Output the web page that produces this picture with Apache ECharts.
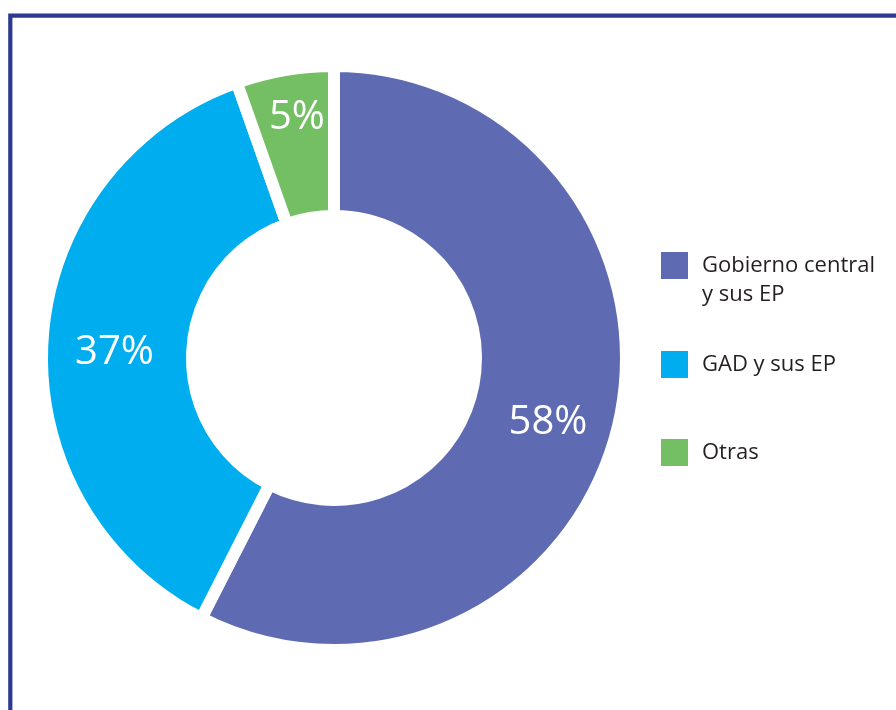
<!DOCTYPE html>
<html>
<head>
<meta charset="utf-8">
<script src="https://cdn.jsdelivr.net/npm/echarts@6/dist/echarts.min.js"></script>
<style>
  html, body { margin: 0; padding: 0; background: #ffffff; }
  #chart { width: 896px; height: 710px; }
</style>
</head>
<body>
<div id="chart"></div>
<script>
// Data
const categories = ['Gobierno central y sus EP', 'GAD y sus EP', 'Otras'];
const legendLabels = ['Gobierno central\ny sus EP', 'GAD y sus EP', 'Otras'];
const values = [57.5, 37.1, 5.4];
const colors = ['#5e6bb2', '#00aeef', '#74bf63'];

const chart = echarts.init(document.getElementById('chart'), null, { renderer: 'canvas' });

const pct = (v) => Math.round(v) + '%';

// per-slice label nudges (a blank line above/below the value shifts it radially)
const labelTweaks = [
  { lineHeight: 26, formatter: (p) => ' \n' + pct(p.value) },
  { lineHeight: 18, formatter: (p) => ' \n' + pct(p.value) },
  { lineHeight: 48, formatter: (p) => pct(p.value) + '\n ' }
];

const pieData = categories.map((name, i) => ({
  name: name,
  value: values[i],
  itemStyle: { color: colors[i] },
  label: labelTweaks[i]
}));

const legendTops = [222, 349, 437];
const legends = categories.map((name, i) => ({
  orient: 'vertical',
  left: 659,
  top: legendTops[i],
  padding: 0,
  itemWidth: 29,
  itemHeight: 29,
  icon: 'rect',
  selectedMode: false,
  data: [name],
  formatter: () => (legendLabels[i].indexOf('\n') >= 0 ? ' \n' : '') + legendLabels[i],
  textStyle: {
    fontFamily: 'Open Sans',
    fontSize: 22,
    lineHeight: 29,
    color: '#231f20',
    padding: [0, 0, 0, 8]
  }
}));

chart.setOption({
  animation: false,
  graphic: [{
    type: 'rect',
    silent: true,
    shape: { x: 10.3, y: 15.7, width: 1000, height: 1000 },
    style: { fill: 'none', stroke: '#2b3990', lineWidth: 4.2 }
  }],
  legend: legends,
  series: [{
    type: 'pie',
    center: [334, 358],
    radius: [142, 292],
    startAngle: 90,
    clockwise: true,
    avoidLabelOverlap: false,
    itemStyle: {
      borderColor: '#ffffff',
      borderWidth: 12,
      borderJoin: 'miter'
    },
    emphasis: { disabled: true },
    label: {
      show: true,
      position: 'inside',
      color: '#ffffff',
      fontFamily: 'Open Sans',
      fontSize: 40,
      fontWeight: 'normal'
    },
    labelLine: { show: false },
    data: pieData
  }]
});
</script>
</body>
</html>
